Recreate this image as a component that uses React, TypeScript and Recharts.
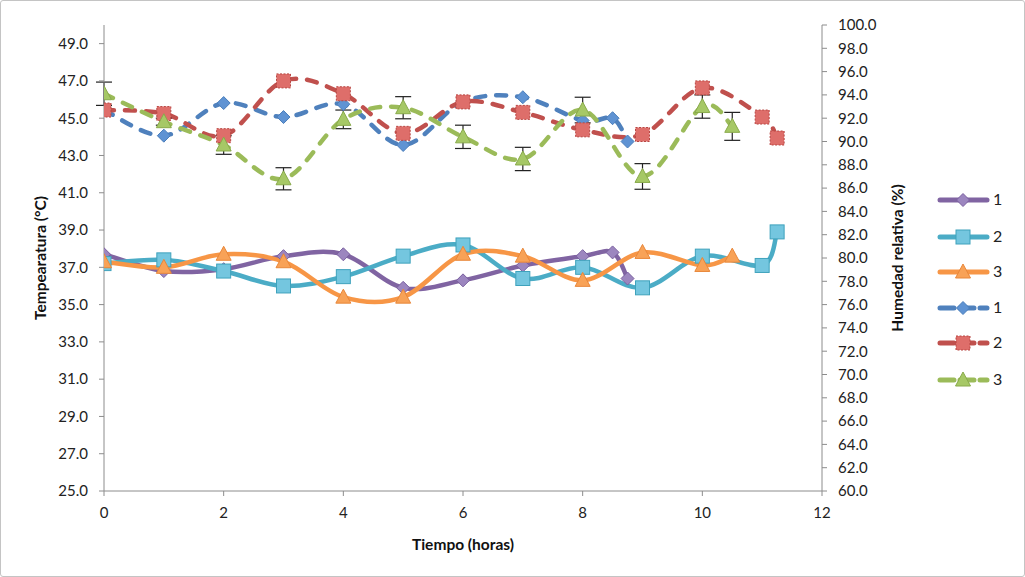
import { ComposedChart, ErrorBar, Legend, Line, XAxis, YAxis } from "recharts";

// Horas de muestreo de cada ensayo
const HORAS_1 = [0, 1, 2, 3, 4, 5, 6, 7, 8, 8.5, 8.75];
const HORAS_2 = [0, 1, 2, 3, 4, 5, 6, 7, 8, 9, 10, 11, 11.25];
const HORAS_3 = [0, 1, 2, 3, 4, 5, 6, 7, 8, 9, 10, 10.5];

// Temperatura (°C)
const TEMP_1 = [37.7, 36.8, 36.9, 37.6, 37.7, 35.9, 36.3, 37.1, 37.6, 37.8, 36.4];
const TEMP_2 = [37.2, 37.4, 36.8, 36.0, 36.5, 37.6, 38.2, 36.4, 37.0, 35.9, 37.6, 37.1, 38.9];
const TEMP_3 = [37.3, 37.0, 37.7, 37.3, 35.4, 35.4, 37.7, 37.6, 36.3, 37.8, 37.1, 37.6];

// Humedad relativa (%)
const HUM_1 = [92.7, 90.5, 93.3, 92.1, 93.2, 89.7, 93.4, 93.8, 91.8, 92.0, 90.0];
const HUM_2 = [92.7, 92.4, 90.5, 95.2, 94.1, 90.7, 93.4, 92.5, 91.0, 90.6, 94.6, 92.1, 90.3];
const HUM_3 = [94.1, 91.7, 89.7, 86.8, 91.9, 92.9, 90.4, 88.5, 92.7, 87.0, 93.0, 91.3];
const HUM_3_ERR = [1.0, 0.3, 0.8, 0.95, 0.8, 0.95, 1.0, 1.0, 1.1, 1.1, 1.0, 1.2];

const TEMP_TICKS = [25, 27, 29, 31, 33, 35, 37, 39, 41, 43, 45, 47, 49];
const HUM_TICKS = [60, 62, 64, 66, 68, 70, 72, 74, 76, 78, 80, 82, 84, 86, 88, 90, 92, 94, 96, 98, 100];
const HORA_TICKS = [0, 2, 4, 6, 8, 10, 12];

const FONT = "Lato, 'Open Sans', sans-serif";
const AXIS = "#8c8c8c";

type Row = { hora: number; valor: number; err?: number };

function rows(horas: number[], valores: number[], errs?: number[]): Row[] {
  return horas.map((h, i) => ({ hora: h, valor: valores[i], err: errs ? errs[i] : undefined }));
}

// Bezier smoothing in the spirit of spreadsheet "smoothed lines"
function suavizado(context: any) {
  let pts: [number, number][] = [];
  return {
    areaStart() {},
    areaEnd() {},
    lineStart() {
      pts = [];
    },
    lineEnd() {
      if (!pts.length) return;
      context.moveTo(pts[0][0], pts[0][1]);
      for (let i = 0; i < pts.length - 1; i++) {
        const p0 = pts[i - 1] ?? pts[i];
        const p1 = pts[i];
        const p2 = pts[i + 1];
        const p3 = pts[i + 2] ?? p2;
        context.bezierCurveTo(
          p1[0] + (p2[0] - p0[0]) / 6,
          p1[1] + (p2[1] - p0[1]) / 6,
          p2[0] - (p3[0] - p1[0]) / 6,
          p2[1] - (p3[1] - p1[1]) / 6,
          p2[0],
          p2[1],
        );
      }
    },
    point(x: number, y: number) {
      pts.push([+x, +y]);
    },
  };
}

type Forma = "diamante" | "cuadro" | "triangulo";

function Marcador({ forma, cx, cy, fill, stroke, dash }: { forma: Forma; cx: number; cy: number; fill: string; stroke: string; dash?: boolean }) {
  const common = { fill, stroke, strokeWidth: 1, strokeDasharray: dash ? "2 1.5" : undefined };
  if (forma === "diamante") {
    const r = 6.5;
    return <path d={`M${cx},${cy - r}L${cx + r},${cy}L${cx},${cy + r}L${cx - r},${cy}Z`} {...common} />;
  }
  if (forma === "cuadro") {
    return <rect x={cx - 7} y={cy - 7} width={14} height={14} {...common} />;
  }
  return <path d={`M${cx},${cy - 8}L${cx + 7.5},${cy + 6}L${cx - 7.5},${cy + 6}Z`} {...common} />;
}

type Serie = {
  id: string;
  nombre: string;
  datos: Row[];
  eje: "temp" | "hum";
  color: string;
  forma: Forma;
  relleno: string;
  borde: string;
  discontinua: boolean;
  bordeDiscontinuo?: boolean;
};

const SERIES: Serie[] = [
  { id: "t1", nombre: "1", datos: rows(HORAS_1, TEMP_1), eje: "temp", color: "#8064a2", forma: "diamante", relleno: "#9c86bf", borde: "#7a60a0", discontinua: false },
  { id: "t2", nombre: "2", datos: rows(HORAS_2, TEMP_2), eje: "temp", color: "#4bacc6", forma: "cuadro", relleno: "#74c6df", borde: "#3fa2bc", discontinua: false },
  { id: "t3", nombre: "3", datos: rows(HORAS_3, TEMP_3), eje: "temp", color: "#f79646", forma: "triangulo", relleno: "#f8a257", borde: "#e8873a", discontinua: false },
  { id: "h1", nombre: "1", datos: rows(HORAS_1, HUM_1), eje: "hum", color: "#4f81bd", forma: "diamante", relleno: "#5f93d3", borde: "#4a7ebb", discontinua: true },
  { id: "h2", nombre: "2", datos: rows(HORAS_2, HUM_2), eje: "hum", color: "#c0504d", forma: "cuadro", relleno: "#de6e6a", borde: "#b84743", discontinua: true, bordeDiscontinuo: true },
  { id: "h3", nombre: "3", datos: rows(HORAS_3, HUM_3, HUM_3_ERR), eje: "hum", color: "#9bbb59", forma: "triangulo", relleno: "#a6c866", borde: "#89aa4b", discontinua: true },
];

function Leyenda() {
  const filas = [15, 52, 87, 123, 158, 195];
  return (
    <svg width={90} height={210} style={{ overflow: "visible" }}>
      {SERIES.map((s, i) => {
        const y = filas[i];
        return (
          <g key={s.id}>
            <line
              x1={10}
              x2={57}
              y1={y}
              y2={y}
              stroke={s.color}
              strokeWidth={5}
              strokeLinecap="round"
              strokeDasharray={s.discontinua ? "14 6" : undefined}
            />
            <Marcador forma={s.forma} cx={33} cy={y} fill={s.relleno} stroke={s.borde} dash={s.bordeDiscontinuo} />
            <text x={63} y={y + 5} fontSize={16} fontFamily={FONT} fill="#222">
              {s.nombre}
            </text>
          </g>
        );
      })}
    </svg>
  );
}

const tickStyle = { fontSize: 15, fontFamily: FONT, fill: "#222" };
const labelStyle = { fontSize: 15.5, fontWeight: 700, fontFamily: FONT, fill: "#111" };
const fmt = (v: number) => v.toFixed(1);

export default function App() {
  return (
    <div
      style={{
        position: "absolute",
        left: 0,
        top: 0,
        width: 1025,
        height: 577,
        boxSizing: "border-box",
        border: "1px solid #c4c4c4",
        borderRadius: 3,
        background: "#fff",
      }}
    >
      <ComposedChart width={1023} height={575} margin={{ top: 24, right: 112, bottom: 25, left: 0 }}>
        <XAxis
          dataKey="hora"
          type="number"
          domain={[0, 12]}
          ticks={HORA_TICKS}
          allowDataOverflow
          height={60}
          stroke={AXIS}
          tickSize={5}
          tickMargin={11}
          tick={tickStyle}
          label={{
            value: "Tiempo (horas)",
            position: "insideBottom",
            offset: 1,
            style: labelStyle,
          }}
        />
        <YAxis
          yAxisId="temp"
          orientation="left"
          type="number"
          domain={[25, 50]}
          ticks={TEMP_TICKS}
          allowDataOverflow
          width={103}
          stroke={AXIS}
          tickSize={5}
          tickMargin={11}
          tick={tickStyle}
          tickFormatter={fmt}
          label={{
            value: "Tempearatura (°C)",
            angle: -90,
            position: "insideLeft",
            offset: 39,
            style: { ...labelStyle, textAnchor: "middle" },
          }}
        />
        <YAxis
          yAxisId="hum"
          orientation="right"
          type="number"
          domain={[60, 100]}
          ticks={HUM_TICKS}
          allowDataOverflow
          width={90}
          stroke={AXIS}
          tickSize={5}
          tickMargin={11}
          tick={tickStyle}
          tickFormatter={fmt}
          label={{
            value: "Humedad relativa (%)",
            angle: -90,
            position: "insideLeft",
            offset: 75,
            style: { ...labelStyle, textAnchor: "middle" },
          }}
        />
        <Legend
          layout="horizontal"
          verticalAlign="middle"
          align="center"
          content={() => <Leyenda />}
          wrapperStyle={{ position: "absolute", left: 929, top: 184, width: 90, height: 210 }}
        />
        {SERIES.map((s) => (
          <Line
            key={s.id}
            name={s.nombre}
            data={s.datos}
            dataKey="valor"
            yAxisId={s.eje}
            type={suavizado as any}
            stroke={s.color}
            strokeWidth={4.5}
            strokeLinecap="round"
            strokeDasharray={s.discontinua ? "10 11" : undefined}
            isAnimationActive={false}
            dot={(p: any) => (
              <Marcador
                key={`${s.id}-${p.index}`}
                forma={s.forma}
                cx={p.cx}
                cy={p.cy}
                fill={s.relleno}
                stroke={s.borde}
                dash={s.bordeDiscontinuo}
              />
            )}
            activeDot={false}
          >
            {s.id === "h3" ? <ErrorBar dataKey="err" width={8} stroke="#222" strokeWidth={1.2} direction="y" /> : null}
          </Line>
        ))}
      </ComposedChart>
    </div>
  );
}
